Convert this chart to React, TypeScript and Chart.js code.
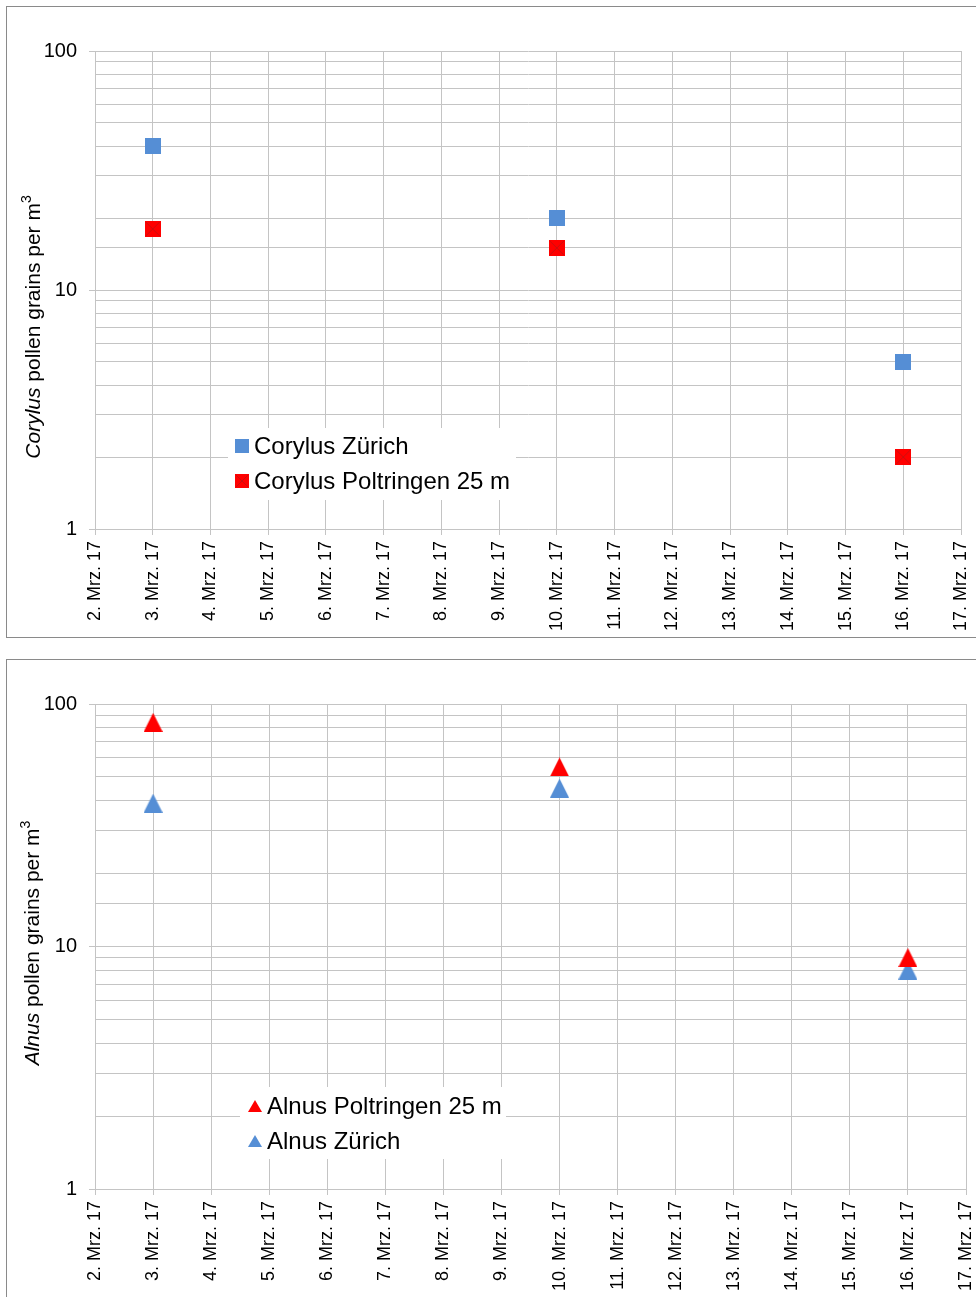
import React, { useEffect, useRef } from 'react';
import { Chart, registerables } from 'chart.js';

Chart.register(...registerables);

const days = [
  '2. Mrz. 17', '3. Mrz. 17', '4. Mrz. 17', '5. Mrz. 17', '6. Mrz. 17', '7. Mrz. 17',
  '8. Mrz. 17', '9. Mrz. 17', '10. Mrz. 17', '11. Mrz. 17', '12. Mrz. 17', '13. Mrz. 17',
  '14. Mrz. 17', '15. Mrz. 17', '16. Mrz. 17', '17. Mrz. 17',
];
const sampleDays = ['3. Mrz. 17', '10. Mrz. 17', '16. Mrz. 17'];
const corylusZurich = [40, 20, 5];
const corylusPoltringen = [18, 15, 2];
const alnusPoltringen = [84, 55, 9];
const alnusZurich = [39, 45, 8];
const yTickLabels = [1, 10, 100];
const corylusLegend = ['Corylus Zürich', 'Corylus Poltringen 25 m'];
const alnusLegend = ['Alnus Poltringen 25 m', 'Alnus Zürich'];

const BLUE = '#558ED5';
const RED = '#FF0000';
const CROSS = 'rgba(150,30,30,0.5)';
const GRID = '#c4c4c4';
const FONT = '"Liberation Sans", Arial, sans-serif';

function makeSquare(size: number, fill: string, cross?: string) {
  const c = document.createElement('canvas');
  c.width = size;
  c.height = size;
  const ctx = c.getContext('2d')!;
  ctx.fillStyle = fill;
  ctx.fillRect(0, 0, size, size);
  if (cross) {
    ctx.strokeStyle = cross;
    ctx.lineWidth = 1;
    ctx.beginPath();
    ctx.moveTo(1, 1);
    ctx.lineTo(size - 1, size - 1);
    ctx.moveTo(size - 1, 1);
    ctx.lineTo(1, size - 1);
    ctx.stroke();
  }
  return c;
}

function makeTriangle(w: number, h: number, fill: string) {
  const c = document.createElement('canvas');
  c.width = w;
  c.height = h;
  const ctx = c.getContext('2d')!;
  ctx.fillStyle = fill;
  ctx.beginPath();
  ctx.moveTo(w / 2, 0);
  ctx.lineTo(w, h);
  ctx.lineTo(0, h);
  ctx.closePath();
  ctx.fill();
  return c;
}

function toPoints(values: number[]) {
  return values.map((v, i) => ({ x: sampleDays[i], y: v }));
}

function drawAxisTitle(
  ctx: CanvasRenderingContext2D,
  cx: number,
  cy: number,
  italic: string,
  rest: string,
  sup: string,
  size: number,
) {
  ctx.save();
  ctx.translate(cx, cy);
  ctx.rotate(-Math.PI / 2);
  ctx.fillStyle = '#000';
  ctx.textBaseline = 'alphabetic';
  ctx.textAlign = 'left';
  const fI = `italic ${size}px ${FONT}`;
  const fN = `${size}px ${FONT}`;
  const supSize = Math.round(size * 0.65);
  const fS = `${supSize}px ${FONT}`;
  ctx.font = fI;
  const w1 = ctx.measureText(italic).width;
  ctx.font = fN;
  const w2 = ctx.measureText(rest).width;
  ctx.font = fS;
  const w3 = ctx.measureText(sup).width;
  const total = w1 + w2 + w3;
  let x = -total / 2;
  const base = size * 0.36;
  ctx.font = fI;
  ctx.fillText(italic, x, base);
  x += w1;
  ctx.font = fN;
  ctx.fillText(rest, x, base);
  x += w2;
  ctx.font = fS;
  ctx.fillText(sup, x, base - size * 0.42);
  ctx.restore();
}

type LegendSpec = {
  labels: string[];
  markers: HTMLCanvasElement[];
  box: { x: number; y: number; w: number; h: number };
  markerX: number;
  textX: number;
  rowY: number[];
  fontSize: number;
};

type ChartSpec = {
  datasets: { label: string; data: number[]; image: HTMLCanvasElement }[];
  padTop: number;
  padRight: number;
  xHeight: number;
  title: { cx: number; cy: number; italic: string; rest: string; sup: string; size: number };
  legend: LegendSpec;
};

function buildConfig(spec: ChartSpec): any {
  const plugin = {
    id: 'extras',
    afterDraw(chart: any) {
      const ctx = chart.ctx as CanvasRenderingContext2D;
      const t = spec.title;
      drawAxisTitle(ctx, t.cx, t.cy, t.italic, t.rest, t.sup, t.size);
      const lg = spec.legend;
      ctx.save();
      ctx.fillStyle = '#fff';
      ctx.fillRect(lg.box.x, lg.box.y, lg.box.w, lg.box.h);
      ctx.font = `${lg.fontSize}px ${FONT}`;
      ctx.fillStyle = '#000';
      ctx.textBaseline = 'alphabetic';
      ctx.textAlign = 'left';
      lg.labels.forEach((label, i) => {
        const m = lg.markers[i];
        const cy = lg.rowY[i];
        ctx.drawImage(m, lg.markerX, Math.round(cy - m.height / 2));
        ctx.fillText(label, lg.textX, cy + lg.fontSize * 0.34);
      });
      ctx.restore();
    },
  };

  return {
    type: 'line',
    data: {
      labels: days,
      datasets: spec.datasets.map((d) => ({
        label: d.label,
        data: toPoints(d.data),
        showLine: false,
        pointStyle: d.image,
        pointRadius: 9,
        pointHoverRadius: 9,
        borderColor: 'transparent',
        backgroundColor: 'transparent',
      })),
    },
    options: {
      responsive: false,
      animation: false,
      events: [],
      layout: { padding: { top: spec.padTop, right: spec.padRight, left: 0, bottom: 0 } },
      plugins: {
        legend: { display: false },
        tooltip: { enabled: false },
        title: { display: false },
      },
      scales: {
        x: {
          type: 'category',
          offset: false,
          grid: {
            offset: false,
            color: GRID,
            lineWidth: 1,
            tickLength: 6,
            tickColor: GRID,
          },
          border: { color: GRID },
          ticks: {
            autoSkip: false,
            minRotation: 90,
            maxRotation: 90,
            padding: 6,
            color: '#000',
            font: { family: FONT, size: 18 },
          },
          afterFit(scale: any) {
            scale.height = spec.xHeight;
            scale.paddingLeft = 0;
            scale.paddingRight = 0;
          },
        },
        y: {
          type: 'logarithmic',
          min: 1,
          max: 100,
          grid: {
            color: GRID,
            lineWidth: 1,
            tickLength: 6,
            tickColor: (c: any) =>
              c.tick && yTickLabels.includes(c.tick.value) ? GRID : 'rgba(0,0,0,0)',
          },
          border: { color: GRID },
          ticks: {
            autoSkip: false,
            padding: 12,
            color: '#000',
            font: { family: FONT, size: 20 },
            callback: (v: any) => (yTickLabels.includes(Number(v)) ? String(v) : ''),
          },
          afterFit(scale: any) {
            scale.width = 95;
            scale.paddingTop = 0;
            scale.paddingBottom = 0;
          },
        },
      },
    },
    plugins: [plugin],
  };
}

function ChartCanvas({ spec, width, height, top }: { spec: () => ChartSpec; width: number; height: number; top: number }) {
  const ref = useRef<HTMLCanvasElement | null>(null);
  useEffect(() => {
    if (!ref.current) return;
    const chart = new Chart(ref.current, buildConfig(spec()));
    return () => chart.destroy();
  }, []);
  return (
    <canvas
      ref={ref}
      width={width}
      height={height}
      style={{ position: 'absolute', left: 0, top, width, height, display: 'block' }}
    />
  );
}

const corylusSpec = (): ChartSpec => ({
  datasets: [
    { label: corylusLegend[0], data: corylusZurich, image: makeSquare(16, BLUE) },
    { label: corylusLegend[1], data: corylusPoltringen, image: makeSquare(16, RED, CROSS) },
  ],
  padTop: 51,
  padRight: 15,
  xHeight: 121,
  title: { cx: 32, cy: 327, italic: 'Corylus', rest: ' pollen grains per m', sup: '3', size: 21 },
  legend: {
    labels: corylusLegend,
    markers: [makeSquare(14, BLUE), makeSquare(14, RED, CROSS)],
    box: { x: 228, y: 428, w: 288, h: 72 },
    markerX: 235,
    textX: 254,
    rowY: [446, 481],
    fontSize: 24,
  },
});

const alnusSpec = (): ChartSpec => ({
  datasets: [
    { label: alnusLegend[0], data: alnusPoltringen, image: makeTriangle(19, 19, RED) },
    { label: alnusLegend[1], data: alnusZurich, image: makeTriangle(19, 19, BLUE) },
  ],
  padTop: 54,
  padRight: 10,
  xHeight: 108,
  title: { cx: 31, cy: 293, italic: 'Alnus', rest: ' pollen grains per m', sup: '3', size: 21 },
  legend: {
    labels: alnusLegend,
    markers: [makeTriangle(14, 12, RED), makeTriangle(14, 12, BLUE)],
    box: { x: 240, y: 437, w: 266, h: 72 },
    markerX: 248,
    textX: 267,
    rowY: [456, 491],
    fontSize: 24,
  },
});

export default function App() {
  return (
    <div
      style={{
        position: 'absolute',
        left: 0,
        top: 0,
        width: 976,
        height: 1297,
        overflow: 'hidden',
        background: '#fff',
      }}
    >
      <div
        style={{
          position: 'absolute',
          left: 6,
          top: 6,
          width: 1000,
          height: 630,
          border: '1px solid #8a8a8a',
        }}
      />
      <div
        style={{
          position: 'absolute',
          left: 6,
          top: 659,
          width: 1000,
          height: 700,
          border: '1px solid #8a8a8a',
        }}
      />
      <ChartCanvas spec={corylusSpec} width={976} height={650} top={0} />
      <ChartCanvas spec={alnusSpec} width={976} height={647} top={650} />
    </div>
  );
}
